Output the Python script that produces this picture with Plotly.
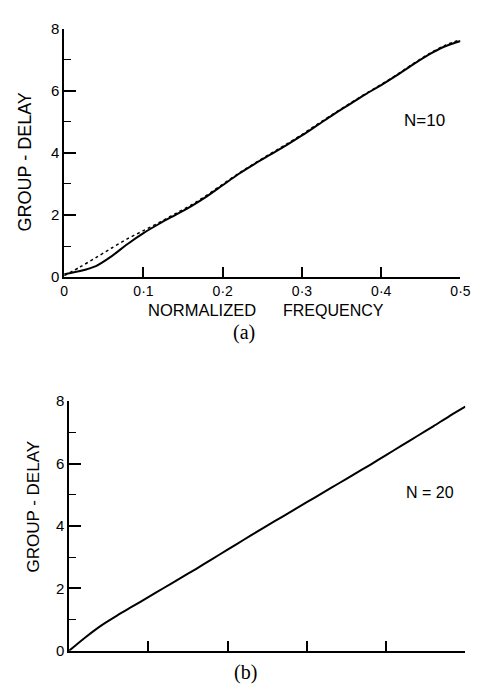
import plotly.graph_objects as go

# ---- data ----
freq = [0.00, 0.02, 0.04, 0.06, 0.08, 0.10, 0.12, 0.14, 0.16, 0.18, 0.20, 0.22, 0.24,
        0.26, 0.28, 0.30, 0.32, 0.34, 0.36, 0.38, 0.40, 0.42, 0.44, 0.46, 0.48, 0.50]
delay_a_solid = [0.10, 0.20, 0.36, 0.68, 1.07, 1.42, 1.72, 2.00, 2.28, 2.60, 2.96, 3.32, 3.64,
                 3.94, 4.24, 4.56, 4.90, 5.24, 5.56, 5.88, 6.18, 6.50, 6.84, 7.16, 7.42, 7.60]
delay_a_dotted = [0.05, 0.33, 0.63, 0.94, 1.24, 1.50, 1.76, 2.04, 2.32, 2.64, 2.99, 3.34, 3.66,
                  3.97, 4.27, 4.59, 4.93, 5.26, 5.58, 5.90, 6.20, 6.52, 6.86, 7.18, 7.45, 7.64]
delay_b = [0.00, 0.42, 0.80, 1.12, 1.42, 1.72, 2.02, 2.32, 2.62, 2.93, 3.24, 3.55, 3.86,
           4.16, 4.46, 4.76, 5.06, 5.36, 5.66, 5.96, 6.27, 6.58, 6.89, 7.20, 7.52, 7.82]

x_ticks = [0, 0.1, 0.2, 0.3, 0.4, 0.5]
x_ticklabels = ["0", "0·1", "0·2", "0·3", "0·4", "0·5"]
y_ticks = [0, 2, 4, 6, 8]

W, H = 486, 690
font = "Liberation Sans"

fig = go.Figure()
fig.add_trace(go.Scatter(x=freq, y=delay_a_dotted, mode="lines", xaxis="x", yaxis="y",
                         line=dict(color="black", width=1.5, dash="dot", shape="spline", smoothing=0.8)))
fig.add_trace(go.Scatter(x=freq, y=delay_a_solid, mode="lines", xaxis="x", yaxis="y",
                         line=dict(color="black", width=2, shape="spline", smoothing=0.8)))
fig.add_trace(go.Scatter(x=freq, y=delay_b, mode="lines", xaxis="x2", yaxis="y2",
                         line=dict(color="black", width=2, shape="spline", smoothing=0.8)))

def px_x(p):
    return p / W

def px_y(p):
    return 1 - p / H

common_x = dict(range=[0, 0.5], showgrid=False, zeroline=False, showline=True,
                linecolor="black", linewidth=1.5, ticks="inside", ticklen=10,
                tickwidth=1.5, tickcolor="black", tickvals=x_ticks,
                tickfont=dict(family=font, size=14, color="black"))
common_y = dict(range=[0, 8], showgrid=False, zeroline=False, showline=True,
                linecolor="black", linewidth=1.5, ticks="inside", ticklen=12,
                tickwidth=1.5, tickcolor="black", tickvals=y_ticks,
                minor=dict(dtick=1, ticks="inside", ticklen=7, tickwidth=1.2,
                           tickcolor="black", showgrid=False),
                tickfont=dict(family=font, size=15, color="black"))

fig.update_layout(
    width=W, height=H, margin=dict(l=0, r=0, t=0, b=0),
    paper_bgcolor="white", plot_bgcolor="white", showlegend=False,
    xaxis=dict(common_x, domain=[px_x(62), px_x(470)], anchor="y",
               ticktext=x_ticklabels),
    yaxis=dict(common_y, domain=[px_y(275), px_y(20)], anchor="x"),
    xaxis2=dict(common_x, domain=[px_x(67), px_x(475)], anchor="y2",
                showticklabels=False),
    yaxis2=dict(common_y, domain=[px_y(658), px_y(402)], anchor="x2"),
)

def ann(text, x, y, size=14, fam=font, angle=0):
    fig.add_annotation(text=text, x=px_x(x), y=px_y(y), xref="paper", yref="paper",
                       showarrow=False, textangle=angle, xanchor="center", yanchor="middle",
                       font=dict(family=fam, size=size, color="black"))

ann("NORMALIZED", 204, 309, 16.5)
ann("FREQUENCY", 339, 309, 16)
ann("GROUP - DELAY", 22, 157, 18, angle=-90)
ann("GROUP - DELAY", 30, 510, 17, angle=-90)
ann("N=10", 433, 114, 17)
ann("N = 20", 439, 496, 16)
ann("(a)", 247, 332, 20, "Liberation Serif")
ann("(b)", 249, 680, 20, "Liberation Serif")

fig.write_html("out.html")
